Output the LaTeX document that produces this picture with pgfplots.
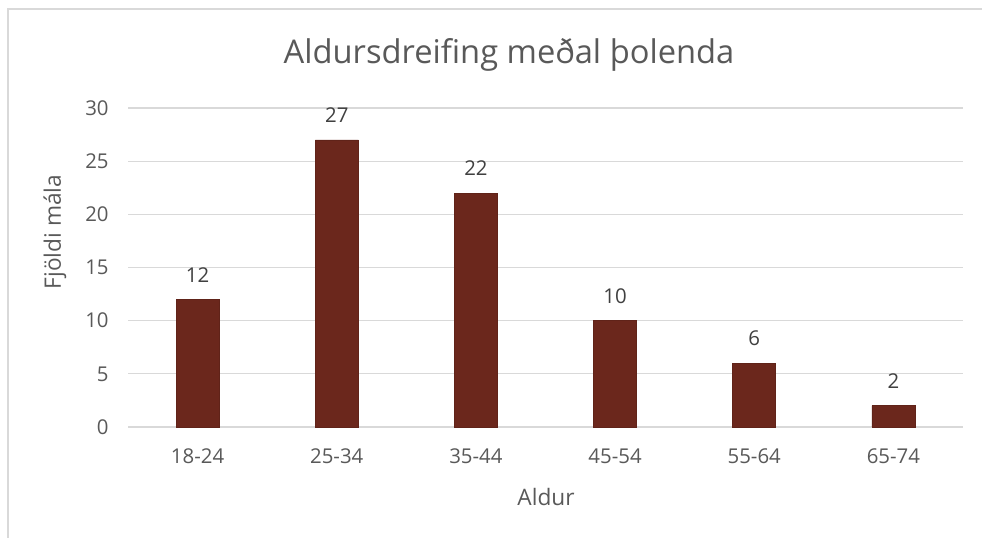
\documentclass[border=0pt]{standalone}
\usepackage{fontspec}
\setmainfont{Open Sans}
\usepackage{pgfplots}
\pgfplotsset{compat=1.18}
\definecolor{barc}{HTML}{6B271C}
\definecolor{gridc}{HTML}{D9D9D9}
\definecolor{txt}{HTML}{595959}
\definecolor{lbl}{HTML}{404040}
\begin{document}
\begin{tikzpicture}[x=0.75pt,y=0.75pt]
\path[use as bounding box] (0,0) rectangle (982,538);
\draw[gridc, line width=1.1pt] (8,0) -- (8,529) -- (982,529);
\begin{axis}[
  at={(96pt,83.25pt)}, anchor=south west,
  scale only axis, width=626.25pt, height=239.25pt,
  xmin=-0.5, xmax=5.5, ymin=0, ymax=30,
  xtick={0,1,2,3,4,5},
  xticklabels={18-24,25-34,35-44,45-54,55-64,65-74},
  ytick={0,5,10,15,20,25,30},
  ymajorgrids, grid style={gridc, line width=0.9pt},
  axis line style={draw=none},
  major tick length=0pt,
  /pgf/number format/assume math mode=true,
  tick label style={font=\fontsize{15.3}{18}\selectfont, text=txt},
  xticklabel style={yshift=-12.5pt},
  yticklabel style={xshift=-11pt},
  ybar, bar width=32.25pt,
  nodes near coords,
  every node near coord/.append style={font=\fontsize{15.3}{18}\selectfont, text=lbl, yshift=9.5pt},
  clip=false,
]
\addplot[fill=barc, draw=barc!90!black, line width=0.4pt] coordinates {(0,12) (1,27) (2,22) (3,10) (4,6) (5,2)};
\end{axis}
\node[font=\fontsize{24.5}{29}\selectfont, text=txt] at (509,483) {Aldursdreifing meðal þolenda};
\node[font=\fontsize{17}{20}\selectfont, text=txt] at (546,41) {Aldur};
\node[font=\fontsize{17}{20}\selectfont, text=txt, rotate=90] at (55,306) {Fjöldi mála};
\end{tikzpicture}
\end{document}
